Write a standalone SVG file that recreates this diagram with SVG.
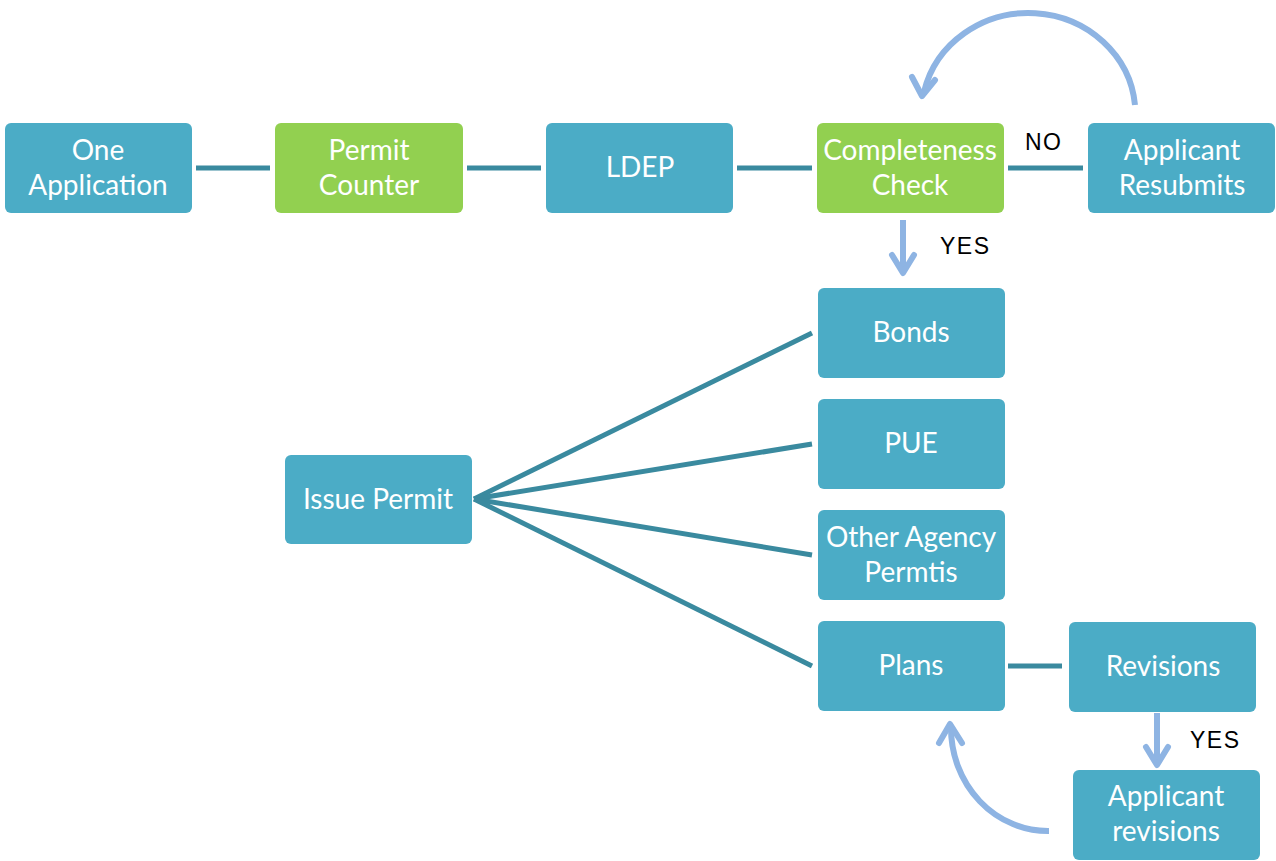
<svg xmlns="http://www.w3.org/2000/svg" width="1276" height="861" viewBox="0 0 1276 861">
<style>
.box{fill:#4bacc6;}
.green{fill:#92d050;}
.t{font-family:Lato,"Noto Sans",sans-serif;font-size:28px;fill:#ffffff;text-anchor:middle;}
.lbl{font-family:"Liberation Sans",Arial,sans-serif;font-size:23px;letter-spacing:1.5px;fill:#000000;}
.ln{stroke:#3a8a9f;stroke-width:5;fill:none;}
.ar{stroke:#8eb4e3;stroke-width:6;fill:none;}
.ah{stroke:#8eb4e3;stroke-width:6;fill:none;stroke-linecap:round;stroke-linejoin:round;}
</style>
<rect width="1276" height="861" fill="#ffffff"/>
<g id="connectors">
<line class="ln" x1="196" y1="168" x2="270" y2="168"/>
<line class="ln" x1="467" y1="168" x2="541" y2="168"/>
<line class="ln" x1="737" y1="168" x2="812" y2="168"/>
<line class="ln" x1="1008" y1="168" x2="1083" y2="168"/>
<line class="ln" x1="474" y1="499" x2="812" y2="333"/>
<line class="ln" x1="474" y1="499" x2="812" y2="444"/>
<line class="ln" x1="474" y1="499" x2="812" y2="555"/>
<line class="ln" x1="474" y1="499" x2="812" y2="666"/>
<line class="ln" x1="1008" y1="666" x2="1062" y2="666"/>
<line class="ar" x1="903" y1="220" x2="903" y2="272"/>
<polyline class="ah" points="892,255 903,273 914,255"/>
<line class="ar" x1="1157" y1="713" x2="1157" y2="765"/>
<polyline class="ah" points="1146,747 1157,765 1168,747"/>
<path class="ar" d="M1135,105 A107,101 0 0 0 924,92"/>
<polyline class="ah" points="912,77 922,96 935,80"/>
<path class="ar" d="M1049,831 A97,103 0 0 1 951,728"/>
<polyline class="ah" points="939,743 950,724 962,743"/>
</g>
<g id="n1"><rect class="box" x="5" y="123" width="187" height="90" rx="6"/><text class="t" x="98" y="160">One</text><text class="t" x="98" y="195">Application</text></g>
<g id="n2"><rect class="green" x="275" y="123" width="188" height="90" rx="6"/><text class="t" x="369" y="160">Permit</text><text class="t" x="369" y="195">Counter</text></g>
<g id="n3"><rect class="box" x="546" y="123" width="187" height="90" rx="6"/><text class="t" x="640" y="177">LDEP</text></g>
<g id="n4"><rect class="green" x="817" y="123" width="187" height="90" rx="6"/><text class="t" x="910" y="160">Completeness</text><text class="t" x="910" y="195">Check</text></g>
<g id="n5"><rect class="box" x="1088" y="123" width="187" height="90" rx="6"/><text class="t" x="1182" y="160">Applicant</text><text class="t" x="1182" y="195">Resubmits</text></g>
<g id="n6"><rect class="box" x="818" y="288" width="187" height="90" rx="6"/><text class="t" x="911" y="342">Bonds</text></g>
<g id="n7"><rect class="box" x="818" y="399" width="187" height="90" rx="6"/><text class="t" x="911" y="453">PUE</text></g>
<g id="n8"><rect class="box" x="818" y="510" width="187" height="90" rx="6"/><text class="t" x="911" y="547">Other Agency</text><text class="t" x="911" y="582">Permtis</text></g>
<g id="n9"><rect class="box" x="818" y="621" width="187" height="90" rx="6"/><text class="t" x="911" y="675">Plans</text></g>
<g id="n10"><rect class="box" x="285" y="455" width="187" height="89" rx="6"/><text class="t" x="378" y="509">Issue Permit</text></g>
<g id="n11"><rect class="box" x="1069" y="622" width="187" height="90" rx="6"/><text class="t" x="1163" y="676">Revisions</text></g>
<g id="n12"><rect class="box" x="1073" y="770" width="187" height="90" rx="6"/><text class="t" x="1166" y="806">Applicant</text><text class="t" x="1166" y="841">revisions</text></g>
<text class="lbl" x="1025" y="150">NO</text>
<text class="lbl" x="940" y="254">YES</text>
<text class="lbl" x="1190" y="748">YES</text>
</svg>
